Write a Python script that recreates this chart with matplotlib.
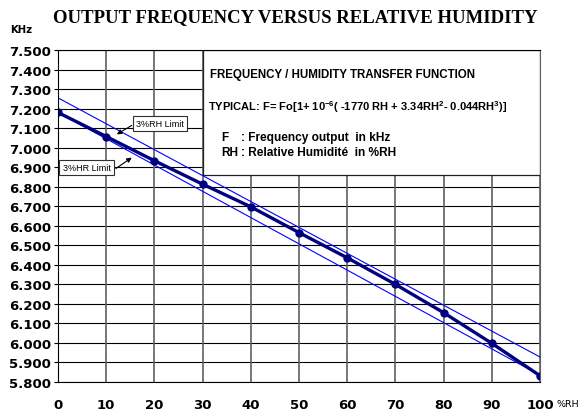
import matplotlib
matplotlib.use("Agg")
import matplotlib.pyplot as plt
from matplotlib.patches import Rectangle
from matplotlib.font_manager import FontProperties

# data
rh = [0, 10, 20, 30, 40, 50, 60, 70, 80, 90, 100]
freq = [7.180, 7.057, 6.933, 6.813, 6.697, 6.565, 6.436, 6.300, 6.155, 5.998, 5.832]

limit_x = [0, 100]
upper_limit = [7.255, 5.928]
lower_limit = [7.180, 5.835]

y_ticks = [5.8, 5.9, 6.0, 6.1, 6.2, 6.3, 6.4, 6.5, 6.6, 6.7, 6.8, 6.9, 7.0, 7.1, 7.2, 7.3, 7.4, 7.5]
x_ticks = [0, 10, 20, 30, 40, 50, 60, 70, 80, 90, 100]

plt.rcParams['mathtext.fontset'] = 'custom'
plt.rcParams['mathtext.rm'] = 'Liberation Sans:bold'
plt.rcParams['mathtext.bf'] = 'Liberation Sans:bold'
plt.rcParams['mathtext.default'] = 'bf'

fig = plt.figure(figsize=(5.81, 4.14), dpi=100)
ax = fig.add_axes([58 / 581, 1 - 383 / 414, 482 / 581, 332 / 414])

# grid
for y in y_ticks:
    ax.axhline(y, color="black", lw=0.8, zorder=1)
for x in x_ticks:
    ax.axvline(x, color="#606060", lw=1.2, zorder=1)

# transfer function box
ax.add_patch(Rectangle((30, 6.862), 70, 0.638, facecolor="white",
                       edgecolor="#202020", lw=0.9, zorder=2))

ax.plot(limit_x, upper_limit, color="#0000ff", lw=0.8, zorder=3)
ax.plot(limit_x, lower_limit, color="#0000ff", lw=0.8, zorder=3)
ax.plot(rh, freq, color="#000080", lw=2.4, marker="o", markersize=5, zorder=4)

ax.set_xlim(0, 100)
ax.set_ylim(5.8, 7.5)
ax.set_xticks(x_ticks)
ax.set_yticks(y_ticks)
ax.set_xticklabels([str(x) for x in x_ticks])
ax.set_yticklabels(["%.3f" % y for y in y_ticks])
tick_font = FontProperties(family="DejaVu Sans", weight="bold", size=9.5)
for lab in ax.get_xticklabels() + ax.get_yticklabels():
    lab.set_fontproperties(tick_font)
ax.tick_params(axis="x", length=0, pad=11.5)
ax.tick_params(axis="y", length=3, width=0.8, pad=2)
ax.spines["right"].set_color("#606060")
for s in ax.spines.values():
    s.set_zorder(5)

box_font = dict(family="Liberation Sans", weight="bold")
ax.text(31.5, 7.376, "FREQUENCY / HUMIDITY TRANSFER FUNCTION", va="center", zorder=6,
        size=8.3, **box_font)
ax.text(31.2, 7.215,
        r"TYPICAL: F= Fo[1+ 10$^{-6}$( -1770 RH + 3.34RH$^{2}$- 0.044RH$^{3}$)]",
        va="center", zorder=6, size=8.0, **box_font)
ax.text(33.9, 7.052, "F", va="center", zorder=6, size=8.6, **box_font)
ax.text(38.0, 7.052, ": Frequency output  in kHz", va="center", zorder=6, size=8.6, **box_font)
ax.text(33.9, 6.980, "RH", va="center", zorder=6, size=8.6, **box_font)
ax.text(38.0, 6.980, ": Relative Humidit\u00e9  in %RH", va="center", zorder=6, size=8.6, **box_font)

# limit labels with arrows
lbl_box = dict(boxstyle="square,pad=0.35", facecolor="white", edgecolor="#303030", lw=0.8)
ax.text(21.2, 7.125, "3%RH Limit", ha="center", va="center", family="Liberation Sans",
        size=6.5, bbox=lbl_box, zorder=6)
ax.text(5.9, 6.897, "3%HR Limit", ha="center", va="center", family="Liberation Sans",
        size=6.5, bbox=lbl_box, zorder=6)
arrow = dict(arrowstyle="-|>", color="black", lw=0.8, mutation_scale=7, shrinkA=0, shrinkB=0)
ax.annotate("", xy=(12.2, 7.068), xytext=(15.3, 7.114), arrowprops=arrow, zorder=6)
ax.annotate("", xy=(15.3, 6.949), xytext=(12.0, 6.893), arrowprops=arrow, zorder=6)

fig.text(0.508, 0.957, "OUTPUT FREQUENCY VERSUS RELATIVE HUMIDITY", ha="center", va="center",
         family="Liberation Serif", weight="bold", size=13.5)
fig.text(0.037, 0.928, "KHz", ha="center", va="center", family="DejaVu Sans",
         weight="bold", size=7.3)
fig.text(0.978, 0.024, "%RH", ha="center", va="center", family="DejaVu Sans", size=6.8)

fig.savefig("out.png", dpi=100)
